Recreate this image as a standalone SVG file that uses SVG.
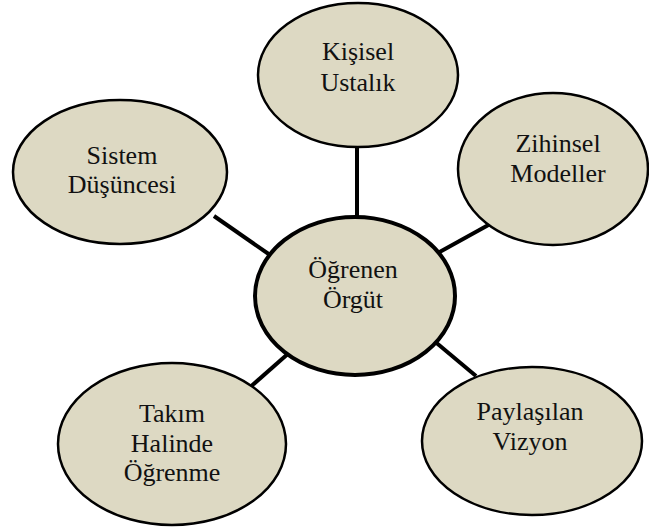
<svg xmlns="http://www.w3.org/2000/svg" width="649" height="528" viewBox="0 0 649 528">
  <style>
    .node { fill: #DDD9C3; stroke: #000; stroke-width: 2.5; }
    .hub { fill: #DDD9C3; stroke: #000; stroke-width: 4; }
    .link { stroke: #000; stroke-width: 4; fill: none; }
    .label { font-size: 26px; fill: #111; text-anchor: middle; }
  </style>
  <rect width="649" height="528" fill="#fff"/>
  <g id="connectors">
    <line class="link" x1="357" y1="140" x2="357" y2="222"/>
    <line class="link" x1="214" y1="216" x2="270" y2="255"/>
    <line class="link" x1="492" y1="223" x2="436" y2="254"/>
    <line class="link" x1="290" y1="352" x2="248" y2="389"/>
    <line class="link" x1="433" y1="340" x2="476" y2="376"/>
  </g>
  <g style="font-family: 'Liberation Serif', 'Times New Roman', serif">
    <g id="kisisel-ustalik">
      <ellipse class="node" cx="358" cy="75" rx="100" ry="72"/>
      <text class="label" x="358" y="60">Kişisel</text>
      <text class="label" x="358" y="91">Ustalık</text>
    </g>
    <g id="sistem-dusuncesi">
      <ellipse class="node" cx="120" cy="172" rx="107" ry="72"/>
      <text class="label" x="122" y="164">Sistem</text>
      <text class="label" x="122" y="193">Düşüncesi</text>
    </g>
    <g id="zihinsel-modeller">
      <ellipse class="node" cx="553" cy="169" rx="95" ry="76"/>
      <text class="label" x="558" y="152">Zihinsel</text>
      <text class="label" x="558" y="182">Modeller</text>
    </g>
    <g id="ogrenen-orgut">
      <ellipse class="hub" cx="355" cy="296" rx="100" ry="79"/>
      <text class="label" x="353" y="278">Öğrenen</text>
      <text class="label" x="353" y="308">Örgüt</text>
    </g>
    <g id="takim-halinde-ogrenme">
      <ellipse class="node" cx="172" cy="444" rx="114" ry="81"/>
      <text class="label" x="172" y="422">Takım</text>
      <text class="label" x="172" y="452">Halinde</text>
      <text class="label" x="172" y="481">Öğrenme</text>
    </g>
    <g id="paylasilan-vizyon">
      <ellipse class="node" cx="532" cy="441" rx="110" ry="74"/>
      <text class="label" x="530" y="420">Paylaşılan</text>
      <text class="label" x="530" y="450">Vizyon</text>
    </g>
  </g>
</svg>
